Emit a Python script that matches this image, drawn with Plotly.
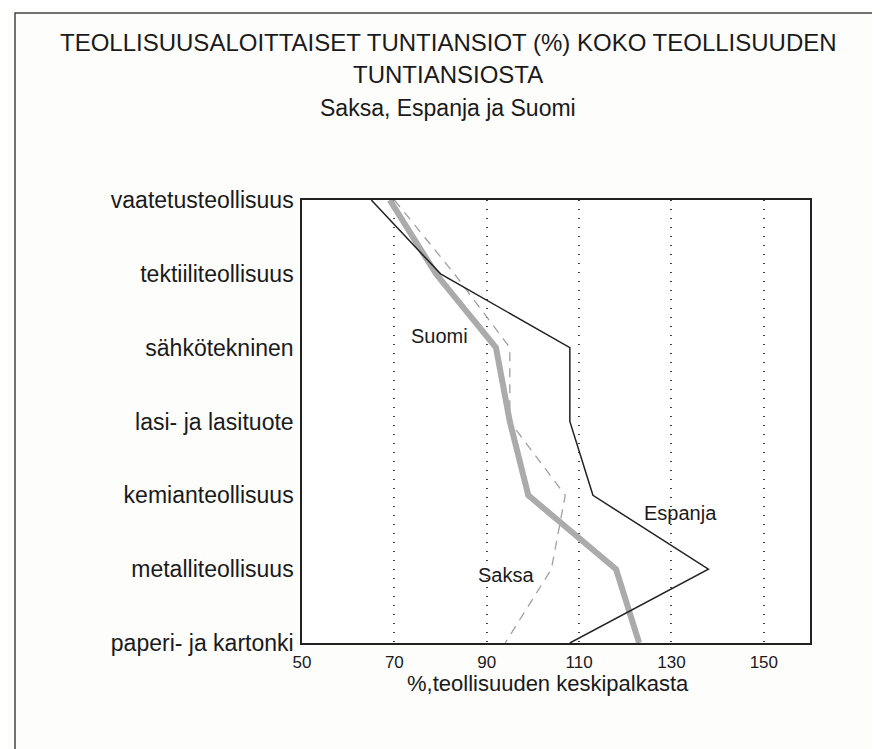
import plotly.graph_objects as go

industries = [
    "vaatetusteollisuus",
    "tektiiliteollisuus",
    "sähkötekninen",
    "lasi- ja lasituote",
    "kemianteollisuus",
    "metalliteollisuus",
    "paperi- ja kartonki",
]
espanja = [65, 80, 108, 108, 113, 138, 108]
suomi = [69, 79, 92, 95, 99, 118, 123]
saksa = [70, 83, 95, 95, 107, 104, 94]
x_ticks = [50, 70, 90, 110, 130, 150]

W, H = 880, 749
L, R, T, B = 294, 78, 192, 114
pw, ph = W - L - R, H - T - B


def px_x(p):
    return (p - L) / pw


def px_y(p):
    return (H - B - p) / ph


fig = go.Figure()
fig.add_trace(go.Scatter(x=saksa, y=industries, mode="lines", name="Saksa",
                         line=dict(color="#a0a0a0", width=1.3, dash="9px,7px")))
fig.add_trace(go.Scatter(x=suomi, y=industries, mode="lines", name="Suomi",
                         line=dict(color="#ababab", width=6)))
fig.add_trace(go.Scatter(x=espanja, y=industries, mode="lines", name="Espanja",
                         line=dict(color="#222222", width=1.5)))

sans = "Liberation Sans, Arial, sans-serif"
lab_font = dict(family=sans, size=20, color="#1a1a1a")
fig.add_annotation(x=79.8, y=1.84, text="Suomi", showarrow=False, font=lab_font)
fig.add_annotation(x=132, y=4.24, text="Espanja", showarrow=False, font=lab_font)
fig.add_annotation(x=94.2, y=5.08, text="Saksa", showarrow=False, font=lab_font)

titles = [
    ("TEOLLISUUSALOITTAISET TUNTIANSIOT (%) KOKO TEOLLISUUDEN", 35, 24),
    ("TUNTIANSIOSTA", 67, 24),
    ("Saksa, Espanja ja Suomi", 100, 23),
]
for txt, py, fs in titles:
    fig.add_annotation(x=px_x(440), y=px_y(py), xref="paper", yref="paper", text=txt,
                       showarrow=False, font=dict(family=sans, size=fs, color="#1a1a1a"),
                       xanchor="center", yanchor="middle")

fig.add_annotation(x=px_x(540), y=px_y(690), xref="paper", yref="paper",
                   text="%,teollisuuden keskipalkasta", showarrow=False,
                   font=dict(family=sans, size=22, color="#1a1a1a"))

# outer frame
fig.add_shape(type="rect", xref="paper", yref="paper",
              x0=px_x(7), x1=px_x(877), y0=px_y(760), y1=px_y(5),
              line=dict(color="#444444", width=1.5))

fig.update_layout(
    width=W, height=H,
    margin=dict(l=L, r=R, t=T, b=B),
    showlegend=False,
    plot_bgcolor="white",
    paper_bgcolor="#fdfdfc",
    xaxis=dict(range=[50, 160], tickvals=x_ticks, showgrid=True, gridcolor="#444444",
               griddash="1px,8px", gridwidth=1.5, zeroline=False, showline=True,
               linecolor="#222222", linewidth=1.5, mirror=True, ticks="",
               ticklabelstandoff=3,
               tickfont=dict(family=sans, size=17, color="#1a1a1a")),
    yaxis=dict(categoryorder="array", categoryarray=industries, range=[6, 0],
               showgrid=False, zeroline=False, showline=True, linecolor="#222222",
               linewidth=1.5, mirror=True, ticks="", ticklabelstandoff=2,
               tickfont=dict(family=sans, size=23, color="#1a1a1a")),
)

fig.write_html("out.html")
